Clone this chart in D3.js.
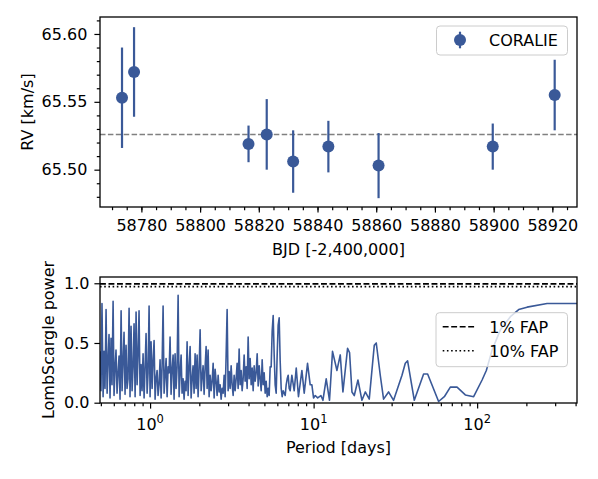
<!DOCTYPE html>
<html>
<head>
<meta charset="utf-8">
<script src="https://cdn.jsdelivr.net/npm/d3@7"></script>
<style>
  body { margin: 0; background: #fff; }
  text { font-family: "DejaVu Sans", sans-serif; fill: #000; }
</style>
</head>
<body>
<script>
// RV data (CORALIE)
const bjd = [58773.4, 58777.5, 58816.5, 58822.7, 58831.7, 58843.7, 58860.8, 58899.7, 58920.8];
const rv = [65.553, 65.572, 65.519, 65.526, 65.506, 65.517, 65.503, 65.517, 65.555];
const rvErr = [0.037, 0.033, 0.0135, 0.026, 0.023, 0.019, 0.024, 0.017, 0.026];
const rvMean = 65.526;

const bjdTicks = [58780, 58800, 58820, 58840, 58860, 58880, 58900, 58920];
const rvTicks = [65.50, 65.55, 65.60];

// Lomb-Scargle periodogram
const lsPeriod = [
  0.494, 0.501, 0.508, 0.516, 0.523, 0.530, 0.538, 0.546, 0.553, 0.561,
  0.569, 0.577, 0.585, 0.594, 0.602, 0.611, 0.619, 0.628, 0.637, 0.646,
  0.655, 0.665, 0.674, 0.684, 0.693, 0.703, 0.713, 0.723, 0.733, 0.744,
  0.754, 0.765, 0.776, 0.787, 0.798, 0.810, 0.821, 0.833, 0.844, 0.856,
  0.869, 0.881, 0.893, 0.906, 0.919, 0.932, 0.945, 0.959, 0.972, 0.986,
  1.000, 1.014, 1.029, 1.043, 1.058, 1.073, 1.088, 1.104, 1.119, 1.135,
  1.151, 1.168, 1.184, 1.201, 1.218, 1.235, 1.253, 1.271, 1.289, 1.307,
  1.325, 1.344, 1.363, 1.383, 1.402, 1.422, 1.442, 1.463, 1.484, 1.505,
  1.526, 1.548, 1.569, 1.592, 1.614, 1.637, 1.660, 1.684, 1.708, 1.732,
  1.757, 1.782, 1.807, 1.832, 1.858, 1.885, 1.912, 1.939, 1.966, 1.994,
  2.023, 2.052, 2.081, 2.110, 2.140, 2.171, 2.201, 2.233, 2.264, 2.296,
  2.329, 2.362, 2.396, 2.430, 2.464, 2.499, 2.534, 2.570, 2.607, 2.644,
  2.681, 2.719, 2.758, 2.797, 2.837, 2.877, 2.918, 2.959, 3.001, 3.044,
  3.087, 3.131, 3.175, 3.220, 3.266, 3.312, 3.359, 3.407, 3.455, 3.504,
  3.554, 3.604, 3.655, 3.707, 3.760, 3.813, 3.867, 3.922, 3.978, 4.034,
  4.092, 4.151, 4.210, 4.269, 4.330, 4.391, 4.453, 4.517, 4.581, 4.646,
  4.712, 4.779, 4.846, 4.915, 4.985, 5.056, 5.127, 5.200, 5.274, 5.348,
  5.424, 5.501, 5.580, 5.659, 5.739, 5.820, 5.903, 5.986, 6.071, 6.158,
  6.245, 6.334, 6.424, 6.515, 6.607, 6.701, 6.796, 6.893, 6.990, 7.090,
  7.190, 7.36, 7.61, 7.83, 8.08, 8.48, 8.76, 9.18, 9.53, 9.76,
  9.99, 10.23, 10.59, 11.08, 11.40, 11.94, 12.51, 13.05, 13.89, 14.55,
  15.11, 16.13, 16.59, 17.16, 17.73, 18.67, 19.75, 20.70, 21.89, 23.49,
  24.16, 25.56, 26.78, 28.73, 30.83, 34.71, 36.36, 37.56, 41.28, 47.06,
  49.79, 58.13, 63.00, 68.55, 75.34, 84.69, 95.20, 107.2, 113.8, 123.4,
  138.7, 159.7, 179.5, 202.0, 267.8, 407.6
];
const lsPower = [
  0.43, 0.10, 0.83, 0.05, 0.43, 0.12, 0.78, 0.08, 0.35, 0.57,
  0.04, 0.54, 0.15, 0.85, 0.06, 0.30, 0.44, 0.08, 0.25, 0.39,
  0.03, 0.77, 0.10, 0.35, 0.59, 0.07, 0.48, 0.12, 0.20, 0.79,
  0.05, 0.64, 0.10, 0.30, 0.66, 0.05, 0.76, 0.15, 0.40, 0.77,
  0.06, 0.32, 0.10, 0.41, 0.04, 0.30, 0.58, 0.08, 0.25, 0.81,
  0.05, 0.51, 0.12, 0.35, 0.52, 0.03, 0.20, 0.27, 0.06, 0.15,
  0.36, 0.04, 0.30, 0.81, 0.08, 0.22, 0.37, 0.05, 0.30, 0.25,
  0.55, 0.07, 0.28, 0.40, 0.03, 0.41, 0.12, 0.30, 0.90, 0.05,
  0.25, 0.40, 0.08, 0.20, 0.03, 0.18, 0.10, 0.51, 0.06, 0.30,
  0.47, 0.04, 0.20, 0.31, 0.08, 0.41, 0.12, 0.40, 0.05, 0.28,
  0.61, 0.10, 0.22, 0.31, 0.07, 0.30, 0.47, 0.12, 0.44, 0.05,
  0.23, 0.10, 0.18, 0.33, 0.04, 0.28, 0.18, 0.06, 0.23, 0.09,
  0.15, 0.03, 0.12, 0.08, 0.23, 0.05, 0.40, 0.78, 0.10, 0.26,
  0.12, 0.31, 0.15, 0.06, 0.23, 0.10, 0.20, 0.33, 0.12, 0.45,
  0.15, 0.27, 0.10, 0.20, 0.40, 0.18, 0.30, 0.12, 0.55, 0.20,
  0.37, 0.15, 0.29, 0.10, 0.31, 0.18, 0.25, 0.41, 0.14, 0.31,
  0.20, 0.10, 0.36, 0.15, 0.25, 0.08, 0.18, 0.05, 0.12, 0.06,
  0.30, 0.30, 0.60, 0.73, 0.40, 0.15, 0.08, 0.40, 0.65, 0.71,
  0.35, 0.12, 0.05, 0.10, 0.08, 0.06, 0.15, 0.20, 0.23, 0.12,
  0.10, 0.23, 0.10, 0.29, 0.05, 0.27, 0.08, 0.33, 0.15, 0.15,
  0.04, 0.06, 0.04, 0.06, 0.02, 0.20, 0.02, 0.43, 0.27, 0.40,
  0.09, 0.455, 0.42, 0.09, 0.06, 0.19, 0.02, 0.09, 0.03, 0.48,
  0.50, 0.23, 0.03, 0.09, 0.02, 0.23, 0.33, 0.35, 0.02, 0.24,
  0.24, 0.01, 0.05, 0.13, 0.13, 0.065, 0.05, 0.19, 0.27, 0.44,
  0.61, 0.72, 0.78, 0.80, 0.83, 0.83
];
const fap1 = 0.995;
const fap10 = 0.972;
const powerTicks = [0.0, 0.5, 1.0];
const periodTicks = [1, 10, 100];
const periodMinor = [0.5, 0.6, 0.7, 0.8, 0.9, 2, 3, 4, 5, 6, 7, 8, 9, 20, 30, 40, 50, 60, 70, 80, 90, 200, 300, 400];

const blue = "#3a5998";
const W = 598, H = 479;
const fs = 16;

const svg = d3.select("body").append("svg")
    .attr("width", W)
    .attr("height", H)
    .style("background", "#fff");

// ---------- top panel ----------
const xTop = d3.scaleLinear().domain([58765.9, 58928.4]).range([100, 577]);
const yTop = d3.scaleLinear().domain([65.4725, 65.6125]).range([207, 17]);

const gTop = svg.append("g");

gTop.append("line")
    .attr("x1", 100).attr("x2", 577)
    .attr("y1", yTop(rvMean)).attr("y2", yTop(rvMean))
    .attr("stroke", "#808080")
    .attr("stroke-width", 1.5)
    .attr("stroke-dasharray", "5.5,2.4");

const pts = bjd.map((b, i) => ({b: b, v: rv[i], e: rvErr[i]}));

gTop.append("g").selectAll("line")
    .data(pts)
    .join("line")
    .attr("x1", d => xTop(d.b)).attr("x2", d => xTop(d.b))
    .attr("y1", d => yTop(d.v - d.e)).attr("y2", d => yTop(d.v + d.e))
    .attr("stroke", blue)
    .attr("stroke-width", 2.2);

gTop.append("g").selectAll("circle")
    .data(pts)
    .join("circle")
    .attr("cx", d => xTop(d.b))
    .attr("cy", d => yTop(d.v))
    .attr("r", 6)
    .attr("fill", blue);

// axes top
gTop.append("g").attr("transform", "translate(0,207)")
    .call(d3.axisBottom(xTop).tickValues(bjdTicks).tickSize(5.6).tickPadding(7).tickFormat(d3.format("d")));
gTop.append("g").attr("transform", "translate(0,207)")
    .call(d3.axisBottom(xTop).tickValues(d3.range(58770, 58928, 5)).tickSize(3.2).tickFormat(""));
gTop.append("g").attr("transform", "translate(100,0)")
    .call(d3.axisLeft(yTop).tickValues(rvTicks).tickSize(5.6).tickPadding(7).tickFormat(d3.format(".2f")));
gTop.append("g").attr("transform", "translate(100,0)")
    .call(d3.axisLeft(yTop).tickValues([65.48, 65.49, 65.51, 65.52, 65.53, 65.54, 65.56, 65.57, 65.58, 65.59, 65.61]).tickSize(3.2).tickFormat(""));

gTop.append("rect")
    .attr("x", 100).attr("y", 17).attr("width", 477).attr("height", 190)
    .attr("fill", "none").attr("stroke", "#000").attr("stroke-width", 1.3);

gTop.append("text")
    .attr("transform", "translate(27,112) rotate(-90)")
    .attr("text-anchor", "middle")
    .attr("dy", "0.36em")
    .style("font-size", fs + "px")
    .text("RV [km/s]");
gTop.append("text")
    .attr("x", 338.5).attr("y", 255)
    .attr("text-anchor", "middle")
    .style("font-size", fs + "px")
    .text("BJD [-2,400,000]");

// legend top
const lg1 = gTop.append("g");
lg1.append("rect")
    .attr("x", 436.5).attr("y", 26).attr("width", 131).attr("height", 29).attr("rx", 3.5)
    .attr("fill", "#fff").attr("fill-opacity", 0.8)
    .attr("stroke", "#cccccc").attr("stroke-width", 1);
lg1.append("line")
    .attr("x1", 460).attr("x2", 460).attr("y1", 31.7).attr("y2", 48.3)
    .attr("stroke", blue).attr("stroke-width", 2.2);
lg1.append("circle").attr("cx", 460).attr("cy", 40).attr("r", 6).attr("fill", blue);
lg1.append("text").attr("x", 489).attr("y", 45.7)
    .style("font-size", fs + "px").text("CORALIE");

// ---------- bottom panel ----------
const xBot = d3.scaleLog().domain([0.494, 408]).range([100, 577]);
const yBot = d3.scaleLinear().domain([0, 1.05]).range([402.7, 277.3]);

const gBot = svg.append("g");

svg.append("clipPath").attr("id", "clipBot")
    .append("rect").attr("x", 100).attr("y", 277).attr("width", 477).attr("height", 126);

const ls = lsPeriod.map((p, i) => [p, lsPower[i]]);
gBot.append("path")
    .datum(ls)
    .attr("clip-path", "url(#clipBot)")
    .attr("fill", "none")
    .attr("stroke", blue)
    .attr("stroke-width", 1.6)
    .attr("stroke-linejoin", "round")
    .attr("d", d3.line().x(d => xBot(d[0])).y(d => yBot(d[1])));

gBot.append("line")
    .attr("x1", 100).attr("x2", 577)
    .attr("y1", yBot(fap1)).attr("y2", yBot(fap1))
    .attr("stroke", "#000").attr("stroke-width", 1.6)
    .attr("stroke-dasharray", "5.9,2.6");
gBot.append("line")
    .attr("x1", 100).attr("x2", 577)
    .attr("y1", yBot(fap10)).attr("y2", yBot(fap10))
    .attr("stroke", "#000").attr("stroke-width", 1.6)
    .attr("stroke-dasharray", "1.6,2.6");

// axes bottom
gBot.append("g").attr("transform", "translate(0,403)")
    .call(d3.axisBottom(xBot).tickValues(periodTicks).tickSize(5.6).tickFormat(""));
gBot.append("g").attr("transform", "translate(0,403)")
    .call(d3.axisBottom(xBot).tickValues(periodMinor).tickSize(3.2).tickFormat(""));
gBot.append("g").attr("transform", "translate(100,0)")
    .call(d3.axisLeft(yBot).tickValues(powerTicks).tickSize(5.6).tickPadding(5).tickFormat(d3.format(".1f")));

const expLabels = gBot.append("g").selectAll("text")
    .data(periodTicks)
    .join("text")
    .attr("x", d => xBot(d))
    .attr("y", 429.5)
    .attr("text-anchor", "middle")
    .style("font-size", fs + "px");
expLabels.append("tspan").text("10");
expLabels.append("tspan")
    .attr("dy", -7)
    .style("font-size", "11.5px")
    .text(d => Math.round(Math.log10(d)));

gBot.append("rect")
    .attr("x", 100).attr("y", 277).attr("width", 477).attr("height", 126)
    .attr("fill", "none").attr("stroke", "#000").attr("stroke-width", 1.3);

gBot.append("text")
    .attr("transform", "translate(48,340) rotate(-90)")
    .attr("text-anchor", "middle")
    .attr("dy", "0.36em")
    .style("font-size", fs + "px")
    .text("LombScargle power");
gBot.append("text")
    .attr("x", 338.5).attr("y", 453)
    .attr("text-anchor", "middle")
    .style("font-size", fs + "px")
    .text("Period [days]");

// legend bottom
const lg2 = gBot.append("g");
lg2.append("rect")
    .attr("x", 436).attr("y", 312.7).attr("width", 131.5).attr("height", 54).attr("rx", 3.5)
    .attr("fill", "#fff").attr("fill-opacity", 0.8)
    .attr("stroke", "#cccccc").attr("stroke-width", 1);
lg2.append("line")
    .attr("x1", 442.7).attr("x2", 475.7).attr("y1", 326.7).attr("y2", 326.7)
    .attr("stroke", "#000").attr("stroke-width", 1.6).attr("stroke-dasharray", "5.9,2.6");
lg2.append("line")
    .attr("x1", 442.7).attr("x2", 475.7).attr("y1", 350.7).attr("y2", 350.7)
    .attr("stroke", "#000").attr("stroke-width", 1.6).attr("stroke-dasharray", "1.6,2.6");
lg2.append("text").attr("x", 489.3).attr("y", 332.7)
    .style("font-size", fs + "px").text("1% FAP");
lg2.append("text").attr("x", 489.3).attr("y", 356.7)
    .style("font-size", fs + "px").text("10% FAP");

svg.selectAll(".tick text").style("font-size", fs + "px").style("font-family", "DejaVu Sans");
svg.selectAll(".tick line").attr("stroke-width", 1.2);
svg.selectAll(".domain").remove();
</script>
</body>
</html>
